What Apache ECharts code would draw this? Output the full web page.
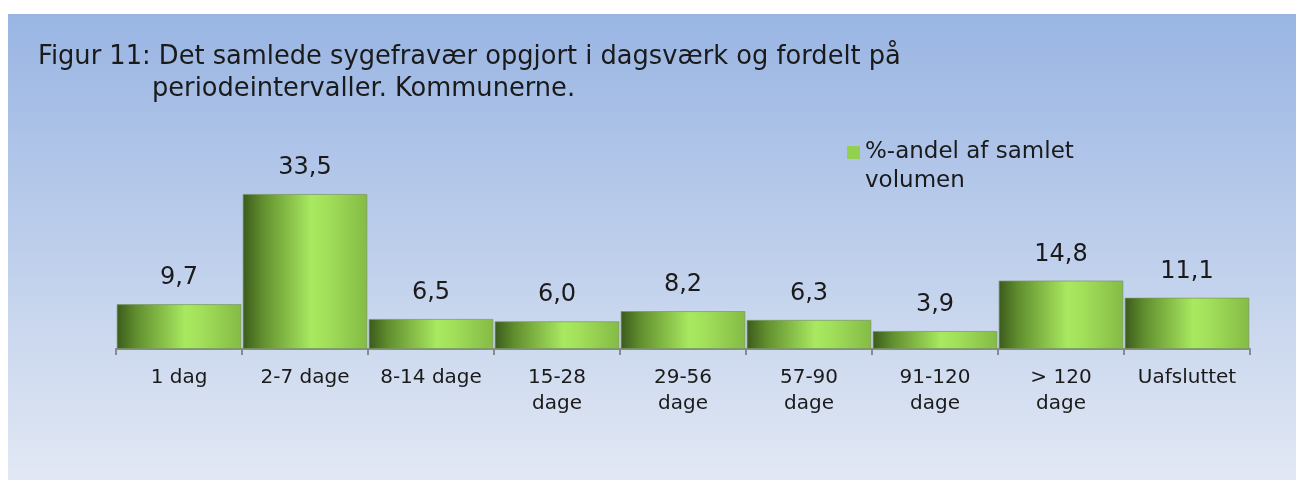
<!DOCTYPE html>
<html>
<head>
<meta charset="utf-8">
<script src="https://cdn.jsdelivr.net/npm/echarts@6/dist/echarts.min.js"></script>
<style>
  html, body { margin: 0; padding: 0; background: #fff; }
  #chart { width: 1296px; height: 480px; }
</style>
</head>
<body>
<div id="chart"></div>
<script>
// data
const categories = ['1 dag', '2-7 dage', '8-14 dage', '15-28\ndage', '29-56\ndage', '57-90\ndage', '91-120\ndage', '> 120\ndage', 'Uafsluttet']
const shareValues = [9.7, 33.5, 6.5, 6.0, 8.2, 6.3, 3.9, 14.8, 11.1]
const seriesName = '%-andel af samlet volumen'
const titleLine1 = 'Figur 11: Det samlede sygefravær opgjort i dagsværk og fordelt på'
const titleLine2 = 'periodeintervaller. Kommunerne.'

const fontFamily = '"DejaVu Sans", sans-serif'
const textColor = '#1a1a1a'

const chart = echarts.init(document.getElementById('chart'))

const barFill = new echarts.graphic.LinearGradient(0, 0, 1, 0, [
    { offset: 0, color: '#3b5a1c' },
    { offset: 0.15, color: '#5f8c2d' },
    { offset: 0.55, color: '#a9e960' },
    { offset: 0.68, color: '#a2df5a' },
    { offset: 1, color: '#84bb45' }
])

chart.setOption({
    textStyle: { fontFamily },
    graphic: [{
        type: 'rect',
        z: -10,
        silent: true,
        shape: { x: 8, y: 14, width: 1288, height: 466 },
        style: {
            fill: new echarts.graphic.LinearGradient(0, 0, 0, 1, [
                { offset: 0, color: '#99b5e3' },
                { offset: 1, color: '#e2e8f4' }
            ])
        }
    }],
    title: [
        {
            text: titleLine1,
            left: 33,
            top: 39,
            textStyle: { fontSize: 25.7, fontWeight: 'normal', color: textColor, fontFamily }
        },
        {
            text: titleLine2,
            left: 147,
            top: 71,
            textStyle: { fontSize: 25.7, fontWeight: 'normal', color: textColor, fontFamily }
        }
    ],
    legend: {
        left: 842,
        top: 133,
        // square sits on the first text line; trailing move-to stretches the icon box
        icon: 'path://M0,0H13V13H0Z M0,42',
        itemWidth: 13,
        itemHeight: 42,
        itemGap: 6,
        itemStyle: { color: '#92d050', borderWidth: 0 },
        formatter: () => '%-andel af samlet\nvolumen',
        textStyle: { fontSize: 23, color: textColor, lineHeight: 29, fontFamily }
    },
    grid: { left: 116, right: 46, top: 187, bottom: 131 },
    xAxis: {
        type: 'category',
        data: categories,
        axisLine: { lineStyle: { color: '#8a8a8a', width: 2 } },
        axisTick: { show: true, length: 6, lineStyle: { color: '#8a8a8a', width: 2 } },
        axisLabel: {
            interval: 0,
            margin: 16,
            fontSize: 20,
            lineHeight: 26,
            color: textColor,
            fontFamily
        }
    },
    yAxis: {
        type: 'value',
        min: 0,
        max: 35,
        show: false
    },
    series: [{
        name: seriesName,
        type: 'bar',
        data: shareValues,
        barCategoryGap: '1%',
        itemStyle: { color: barFill, borderColor: 'rgba(120,150,100,0.7)', borderWidth: 1 },
        label: {
            show: true,
            position: 'top',
            distance: 14,
            fontSize: 24,
            color: textColor,
            fontFamily,
            formatter: p => p.value.toFixed(1).replace('.', ',')
        }
    }]
})
</script>
</body>
</html>
